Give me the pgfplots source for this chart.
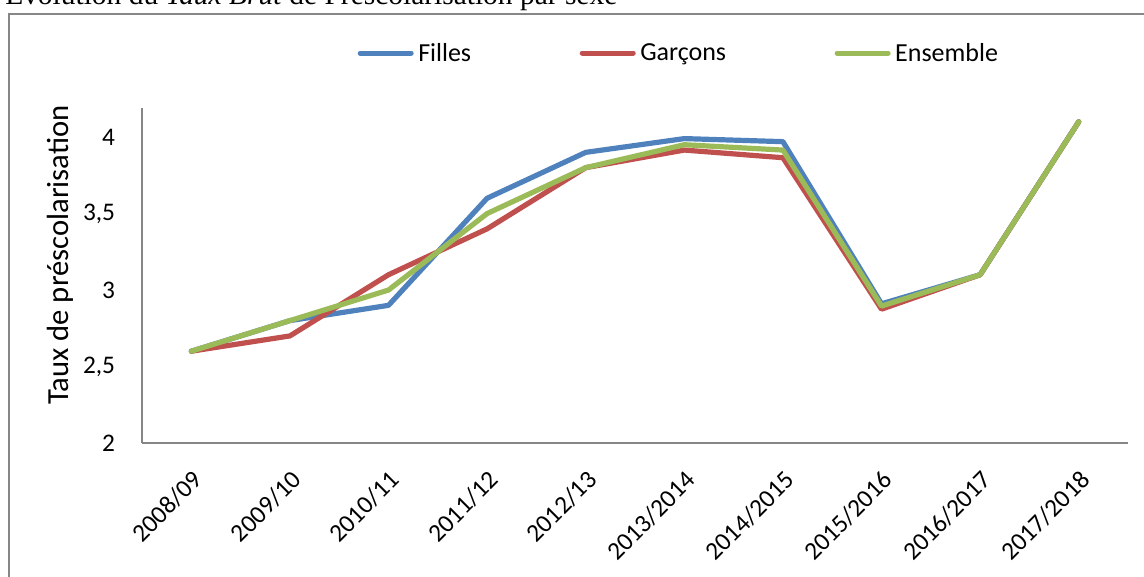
\documentclass[border=0pt]{standalone}
\usepackage{fontspec}
\setmainfont{Carlito}
\newfontfamily\titlefont{Liberation Serif}
\usepackage{pgfplots}
\pgfplotsset{compat=1.18}

\definecolor{filles}{HTML}{4F81BD}
\definecolor{garcons}{HTML}{C0504D}
\definecolor{ensemble}{HTML}{9BBB59}
\definecolor{axisgray}{HTML}{868686}

\begin{document}
\begin{tikzpicture}
% title, cut off by the top of the page as in the source
\node[anchor=base west, inner sep=0pt] at (3.75pt,428.25pt)
  {\resizebox{459pt}{!}{\titlefont Evolution du \textit{Taux Brut} de Préscolarisation par sexe}};
% outer frame of the chart area
\draw[axisgray, line width=1.5pt] (7.1pt,-10pt) -- (7.1pt,421.5pt) -- (880pt,421.5pt);

\begin{axis}[
  at={(106.5pt,99.75pt)}, anchor=south west,
  scale only axis, width=739.5pt, height=251.25pt,
  xmin=-0.5, xmax=9.5, ymin=2, ymax=4.19,
  axis lines*=left,
  axis line style={axisgray, line width=1pt},
  xtick=data,
  xticklabels={2008/09,2009/10,2010/11,2011/12,2012/13,2013/2014,2014/2015,2015/2016,2016/2017,2017/2018},
  ytick={2,2.5,3,3.5,4},
  major tick length=0pt,
  /pgf/number format/use comma,
  /pgf/number format/assume math mode=true,
  tick label style={font=\fontsize{19}{23}\selectfont},
  xticklabel style={yshift=-19.5pt, rotate=45, anchor=north east, inner sep=0pt},
  yticklabel style={anchor=east, inner sep=0pt, xshift=-20pt},
  ylabel={Taux de préscolarisation},
  ylabel style={at={(axis description cs:-0.0832,0.561)}, anchor=center,
    font=\fontsize{23}{27}\selectfont},
  legend columns=3,
  legend style={at={(axis description cs:0.2185,1.164)}, anchor=west,
    draw=none, fill=none, inner sep=0pt,
    font=\fontsize{19.5}{23}\selectfont,
    nodes={inner xsep=3.4pt, inner ysep=0pt},
    /tikz/every even column/.append style={column sep=78pt}},
  legend image code/.code={\draw[#1, line width=3.75pt, line cap=round] (0pt,0pt) -- (38.25pt,0pt);},
  every axis plot/.append style={line width=3.9pt, line join=round, line cap=round, mark=none},
  clip=false,
]
\addplot[filles] coordinates {(0,2.6) (1,2.8) (2,2.9) (3,3.6) (4,3.9) (5,3.99) (6,3.97) (7,2.91) (8,3.1) (9,4.1)};
\addlegendentry{Filles}
\addplot[garcons] coordinates {(0,2.6) (1,2.7) (2,3.1) (3,3.4) (4,3.8) (5,3.915) (6,3.865) (7,2.875) (8,3.1) (9,4.1)};
\addlegendentry{Garçons}
\addplot[ensemble] coordinates {(0,2.6) (1,2.8) (2,3.0) (3,3.5) (4,3.8) (5,3.95) (6,3.915) (7,2.895) (8,3.1) (9,4.1)};
\addlegendentry{Ensemble}
\end{axis}
\pgfresetboundingbox
\path[use as bounding box] (0pt,0pt) rectangle (858pt,432pt);
\end{tikzpicture}
\end{document}
